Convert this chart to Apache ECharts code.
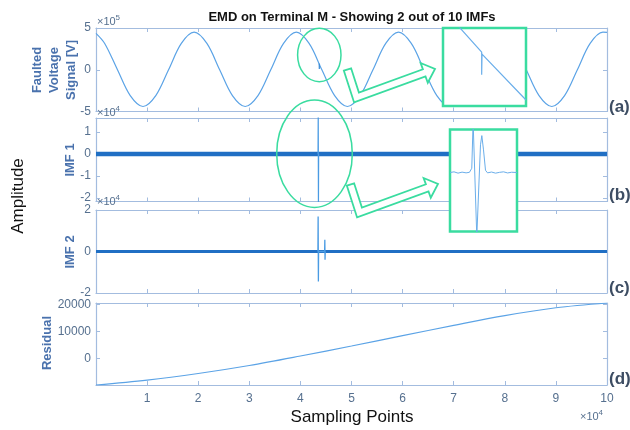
<!DOCTYPE html>
<html><head><meta charset="utf-8">
<script src="https://cdn.jsdelivr.net/npm/echarts@6/dist/echarts.min.js"></script>
<style>html,body{margin:0;padding:0;background:#fff}#c{width:630px;height:430px}</style>
</head><body><div id="c"></div>
<script>
// ---- data (x in units of 1e4 sampling points) ----
const xTickLabels = [1,2,3,4,5,6,7,8,9,10];
const xTickMarks = [1,2,3,4,5,6,7,8,9];
// Faulted voltage signal (x1e5 V)
const sigX = [0,0.17,0.42,0.67,0.92,1.17,1.42,1.67,1.92,2.17,2.42,2.67,2.92,3.17,3.42,3.67,3.92,4.17,4.42,4.67,4.92,5.17,5.42,5.67,5.92,6.17,6.42,6.67,6.92,7.17,7.42,7.67,7.92,8.17,8.42,8.67,8.92,9.17,9.42,9.67,9.92,10];
const sigY = [4.36,3.15,0,-3.1,-4.4,-3.1,0,3.15,4.5,3.15,0,-3.1,-4.4,-3.1,0,3.15,4.5,3.15,0,-3.1,-4.4,-3.1,0,3.15,4.5,3.15,0,-3.1,-4.4,-3.1,0,3.15,4.5,3.15,0,-3.1,-4.4,-3.1,0,3.15,4.5,4.47];
const faultX = [4.368,4.37,4.373];
const faultY = [0.75,0.1,0.68];
// IMF 1 (x1e4)
const imf1BandX = [0,10];
const imf1BandY = [0,0];
const imf1TrX = [4.345,4.349,4.353,4.357];
const imf1TrY = [0,1.9,-2.4,0];
// IMF 2 (x1e4)
const imf2BandX = [0,10];
const imf2BandY = [0,0];
const imf2TrX = [4.343,4.347,4.352,4.356,4.474,4.478,4.482,4.486];
const imf2TrY = [0,1.69,-1.45,0,0,0.56,-0.4,0];
// Residual
const resX = [0,1,2,3,4,5,6,7,8,9,10];
const resY = [-9700,-7900,-5450,-2500,1000,4700,8500,12300,15900,18800,20560];
// Zoom insets (normalised window coordinates)
const ins1X = [0.18,0.466,0.466,0.47,1.0];
const ins1Y = [1.03,0.69,0.40,0.665,0.077];
const ins2X = [0,0.06,0.12,0.18,0.24,0.29,0.325,0.345,0.365,0.40,0.42,0.455,0.475,0.50,0.53,0.56,0.62,0.68,0.74,0.80,0.86,0.92,1.0];
const ins2Y = [0.578,0.585,0.572,0.582,0.575,0.58,0.62,1.08,1.08,-0.05,-0.05,0.85,0.94,0.8,0.6,0.575,0.583,0.572,0.58,0.585,0.574,0.581,0.578];
// y ticks
const yTicksA = [-5,0,5], yTicksB = [-2,-1,0,1], yTicksC = [-2,0,2], yTicksD = [0,10000,20000];

// ---- styling ----
const FONT = "'Liberation Sans', Arial, sans-serif";
const frame = '#a3bcdf', tickCol = '#56708f', nameCol = '#4a72ad', green = '#3adca0';
const lineCol = '#5ba3e6', bandCol = '#206fc4';

const zip = (a,b)=>a.map((v,i)=>[v,b[i]]);

function xAx(gi,pos,labels){
  return {type:'value',gridIndex:gi,position:pos,min:0,max:10,
    axisLine:{show:true,onZero:false,lineStyle:{color:frame,width:1.2}},
    axisTick:{show:true,inside:true,length:4,customValues:xTickMarks,lineStyle:{color:frame,width:1}},
    axisLabel:{show:labels,customValues:xTickLabels,margin:8,color:tickCol,fontSize:12,fontFamily:FONT},
    splitLine:{show:false}};
}
function yAx(gi,pos,min,max,ticks){
  return {type:'value',gridIndex:gi,position:pos,min:min,max:max,
    axisLine:{show:true,onZero:false,lineStyle:{color:frame,width:1.2}},
    axisTick:{show:true,inside:true,length:4,customValues:ticks,lineStyle:{color:frame,width:1}},
    axisLabel:{show:pos==='left',customValues:ticks,margin:5,color:tickCol,fontSize:12,fontFamily:FONT,
      formatter:v=>String(v)},
    splitLine:{show:false}};
}
const G = (top,h)=>({left:96,right:23,top:top,height:h,containLabel:false,outerBoundsMode:'none'});
const grids = [G(28,83.5),G(118,83.5),G(210,83),G(303,82),
  {left:443,top:28,width:83,height:78,show:true,backgroundColor:'#fff',borderColor:green,borderWidth:2.5,z:10,outerBoundsMode:'none'},
  {left:450,top:129.5,width:67,height:102,show:true,backgroundColor:'#fff',borderColor:green,borderWidth:2.5,z:10,outerBoundsMode:'none'}];
const xAxes = [xAx(0,'bottom',false),xAx(0,'top',false),xAx(1,'bottom',false),xAx(1,'top',false),
  xAx(2,'bottom',false),xAx(2,'top',false),xAx(3,'bottom',true),xAx(3,'top',false),
  {type:'value',gridIndex:4,min:0,max:1,show:false},{type:'value',gridIndex:5,min:0,max:1,show:false}];
const yAxes = [yAx(0,'left',-5,5,yTicksA),yAx(0,'right',-5,5,yTicksA),
  yAx(1,'left',-2.16,1.64,yTicksB),yAx(1,'right',-2.16,1.64,yTicksB),
  yAx(2,'left',-2,2,yTicksC),yAx(2,'right',-2,2,yTicksC),
  yAx(3,'left',-9700,20560,yTicksD),yAx(3,'right',-9700,20560,yTicksD),
  {type:'value',gridIndex:4,min:0,max:1,show:false},{type:'value',gridIndex:5,min:0,max:1,show:false}];

function ln(xi,data,color,w,smooth,z){
  return {type:'line',xAxisIndex:xi,yAxisIndex:xi,data:data,symbol:'none',showSymbol:false,smooth:smooth||false,
    lineStyle:{color:color,width:w},z:z||2,clip:true,animation:false};
}
const series = [
  ln(0,zip(sigX,sigY),lineCol,1.2,0.33),
  ln(0,zip(faultX,faultY),'#3f8fd8',1.2,false,3),
  ln(2,zip(imf1BandX,imf1BandY),bandCol,4.5),
  ln(2,zip(imf1TrX,imf1TrY),'#4a9be3',1.2,false,3),
  ln(4,zip(imf2BandX,imf2BandY),bandCol,3),
  ln(4,zip(imf2TrX,imf2TrY),'#4a9be3',1.3,false,3),
  ln(6,zip(resX,resY),lineCol,1.2,0.33),
  ln(8,zip(ins1X,ins1Y),'#6aaeea',1.2,false,12),
  ln(9,zip(ins2X,ins2Y),'#6aaeea',1,false,12)
];

// ---- annotations ----
function arrowPts(P0,P1,P2,tipLen,w,h){
  const sub=(a,b)=>[a[0]-b[0],a[1]-b[1]];
  const nrm=v=>{const l=Math.hypot(v[0],v[1]);return [v[0]/l,v[1]/l];};
  const d1=nrm(sub(P1,P0)), d2=nrm(sub(P2,P1));
  const n1=[-d1[1],d1[0]], n2=[-d2[1],d2[0]];
  const m=nrm([n1[0]+n2[0],n1[1]+n2[1]]); const ml=w/(m[0]*n1[0]+m[1]*n1[1]);
  const tip=[P2[0]+d2[0]*tipLen,P2[1]+d2[1]*tipLen];
  return [[P0[0]+n1[0]*w,P0[1]+n1[1]*w],[P1[0]+m[0]*ml,P1[1]+m[1]*ml],[P2[0]+n2[0]*w,P2[1]+n2[1]*w],
    [P2[0]+n2[0]*h,P2[1]+n2[1]*h],tip,[P2[0]-n2[0]*h,P2[1]-n2[1]*h],[P2[0]-n2[0]*w,P2[1]-n2[1]*w],
    [P1[0]-m[0]*ml,P1[1]-m[1]*ml],[P0[0]-n1[0]*w,P0[1]-n1[1]*w]];
}
const arrowStyle={fill:'#fff',stroke:green,lineWidth:1.8,lineJoin:'miter'};
function txt(x,y,text,size,weight,color,rot,align){
  return {type:'text',x:x,y:y,rotation:rot||0,z:30,
    style:{text:text,fontSize:size,fontWeight:weight,fontFamily:FONT,fill:color,align:align||'center',verticalAlign:'middle',lineHeight:17}};
}
const graphics = [
  {type:'ellipse',shape:{cx:319.3,cy:55,rx:21.7,ry:26.7},style:{fill:'none',stroke:green,lineWidth:1.5},z:20},
  {type:'ellipse',shape:{cx:314.5,cy:153.7,rx:37.8,ry:53.7},style:{fill:'none',stroke:green,lineWidth:1.5},z:20},
  {type:'polygon',shape:{points:arrowPts([347.5,69.5],[356.5,97.5],[424.2,72.9],11.5,3.8,10.5)},style:arrowStyle,z:20},
  {type:'polygon',shape:{points:arrowPts([350.5,184.5],[359.5,212.5],[427.2,187.9],11.5,3.8,10.5)},style:arrowStyle,z:20},
  txt(352,17,'EMD on Terminal M - Showing 2 out of 10 IMFs',13,'bold','#111'),
  txt(54,70,'Faulted\nVoltage\nSignal [V]',13,'bold',nameCol,Math.PI/2),
  txt(70,160,'IMF 1',13,'bold',nameCol,Math.PI/2),
  txt(70,252,'IMF 2',13,'bold',nameCol,Math.PI/2),
  txt(47.5,343,'Residual',13,'bold',nameCol,Math.PI/2),
  txt(18,196,'Amplitude',17,'normal','#111',Math.PI/2),
  txt(352,417,'Sampling Points',17,'normal','#111'),
  txt(609,107,'(a)',17,'bold','#3d4d63',0,'left'),
  txt(609,195,'(b)',17,'bold','#3d4d63',0,'left'),
  txt(609,288,'(c)',17,'bold','#3d4d63',0,'left'),
  txt(609,379,'(d)',17,'bold','#3d4d63',0,'left'),
  txt(97,21.5,'×10',11,'normal',tickCol,0,'left'), txt(115.5,17.5,'5',8,'normal',tickCol,0,'left'),
  txt(97,113,'×10',11,'normal',tickCol,0,'left'), txt(115.5,109,'4',8,'normal',tickCol,0,'left'),
  txt(97,202,'×10',11,'normal',tickCol,0,'left'), txt(115.5,198,'4',8,'normal',tickCol,0,'left'),
  txt(580,417,'×10',11,'normal',tickCol,0,'left'), txt(598.5,413,'4',8,'normal',tickCol,0,'left')
];

const chart = echarts.init(document.getElementById('c'),null,{renderer:'canvas'});
chart.setOption({animation:false,backgroundColor:'#fff',grid:grids,xAxis:xAxes,yAxis:yAxes,series:series,graphic:{elements:graphics}});
</script></body></html>
